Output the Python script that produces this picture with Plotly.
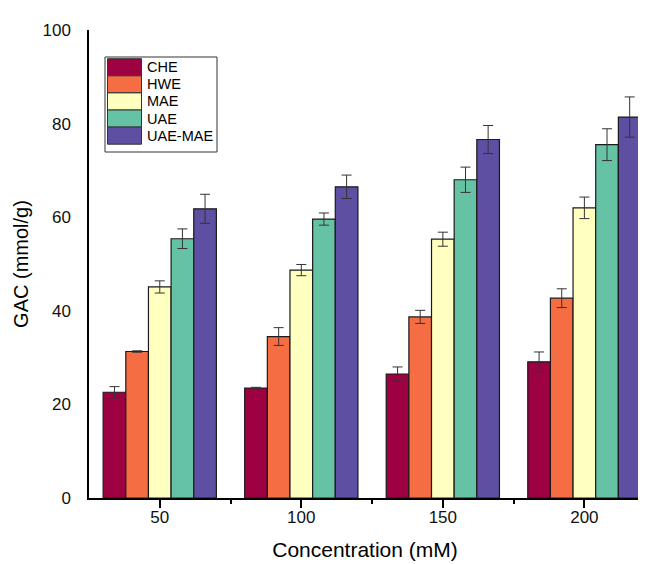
import plotly.graph_objects as go

categories = ["50", "100", "150", "200"]
series_names = ["CHE", "HWE", "MAE", "UAE", "UAE-MAE"]
colors = ["#9e0142", "#f46d43", "#ffffbf", "#66c2a5", "#5e4fa2"]

che = [22.6, 23.5, 26.5, 29.1]
hwe = [31.3, 34.5, 38.7, 42.7]
mae = [45.1, 48.7, 55.3, 62.0]
uae = [55.4, 59.6, 68.0, 75.5]
uae_mae = [61.8, 66.5, 76.6, 81.4]

che_err = [1.2, 0.15, 1.5, 2.1]
hwe_err = [0.15, 1.9, 1.4, 2.0]
mae_err = [1.3, 1.2, 1.5, 2.3]
uae_err = [2.1, 1.3, 2.7, 3.4]
uae_mae_err = [3.1, 2.5, 3.0, 4.3]

y_ticks = [0, 20, 40, 60, 80, 100]

values = [che, hwe, mae, uae, uae_mae]
errors = [che_err, hwe_err, mae_err, uae_err, uae_mae_err]

FONT = "Arial, Liberation Sans, sans-serif"
W, H = 646, 564
ML, MR, MT, MB = 81, 13, 22, 74

xpos = list(range(len(categories)))

fig = go.Figure()
for name, col, v, e in zip(series_names, colors, values, errors):
    fig.add_trace(go.Bar(
        x=xpos, y=v, name=name,
        marker=dict(color=col, line=dict(color="#1a1a1a", width=1.2)),
        error_y=dict(type="data", array=e, visible=True, color="#333333",
                     thickness=1, width=5),
        showlegend=False,
    ))

# custom legend (paper coordinates)
pw = W - ML - MR
ph = H - MT - MB
def px_x(p):
    return (p - ML) / pw
def px_y(p):
    return (H - MB - p) / ph

shapes = []
annotations = []
box_l, box_r, box_t, box_b = 97, 209, 49, 144
shapes.append(dict(type="rect", xref="paper", yref="paper",
                   x0=px_x(box_l), x1=px_x(box_r), y0=px_y(box_b), y1=px_y(box_t),
                   line=dict(color="#333333", width=1), fillcolor="white", layer="above"))
row_h = 17.1
top0 = 50.7
for i, (name, col) in enumerate(zip(series_names, colors)):
    y0p = top0 + i * row_h
    y1p = y0p + row_h
    shapes.append(dict(type="rect", xref="paper", yref="paper",
                       x0=px_x(99.5), x1=px_x(133.5), y0=px_y(y1p), y1=px_y(y0p),
                       line=dict(color="#333333", width=1), fillcolor=col, layer="above"))
    annotations.append(dict(xref="paper", yref="paper", x=px_x(137), y=px_y((y0p + y1p) / 2),
                            text=name, showarrow=False, xanchor="left", yanchor="middle",
                            font=dict(family=FONT, size=14.5, color="black")))

fig.update_layout(
    width=W, height=H,
    margin=dict(l=ML, r=MR, t=MT, b=MB),
    paper_bgcolor="white", plot_bgcolor="white",
    barmode="group", bargap=0.2, bargroupgap=0,
    font=dict(family=FONT, color="black"),
    shapes=shapes, annotations=annotations,
)
fig.update_xaxes(
    range=[-0.5, 3.4], tickvals=xpos, ticktext=categories,
    showline=True, linecolor="black", linewidth=1.5, mirror=False,
    ticks="outside", ticklen=8, tickwidth=1.5, tickcolor="black",
    minor=dict(tickvals=[0.5, 1.5, 2.5], ticks="outside", ticklen=4, tickwidth=1.5, tickcolor="black"),
    tickfont=dict(family=FONT, size=17, color="#111111"),
    ticklabelstandoff=-5,
    showgrid=False, zeroline=False,
    title=dict(text="Concentration (mM)", font=dict(family=FONT, size=21, color="black"), standoff=16),
)
fig.update_yaxes(
    range=[0, 100], tickvals=y_ticks,
    showline=True, linecolor="black", linewidth=1.5,
    ticks="outside", ticklen=13, tickwidth=1, tickcolor="rgba(0,0,0,0)",
    tickfont=dict(family=FONT, size=17, color="#111111"),
    showgrid=False, zeroline=False,
    title=dict(text="GAC (mmol/g)", font=dict(family=FONT, size=20, color="black"), standoff=8),
)

fig.write_html("out.html")
